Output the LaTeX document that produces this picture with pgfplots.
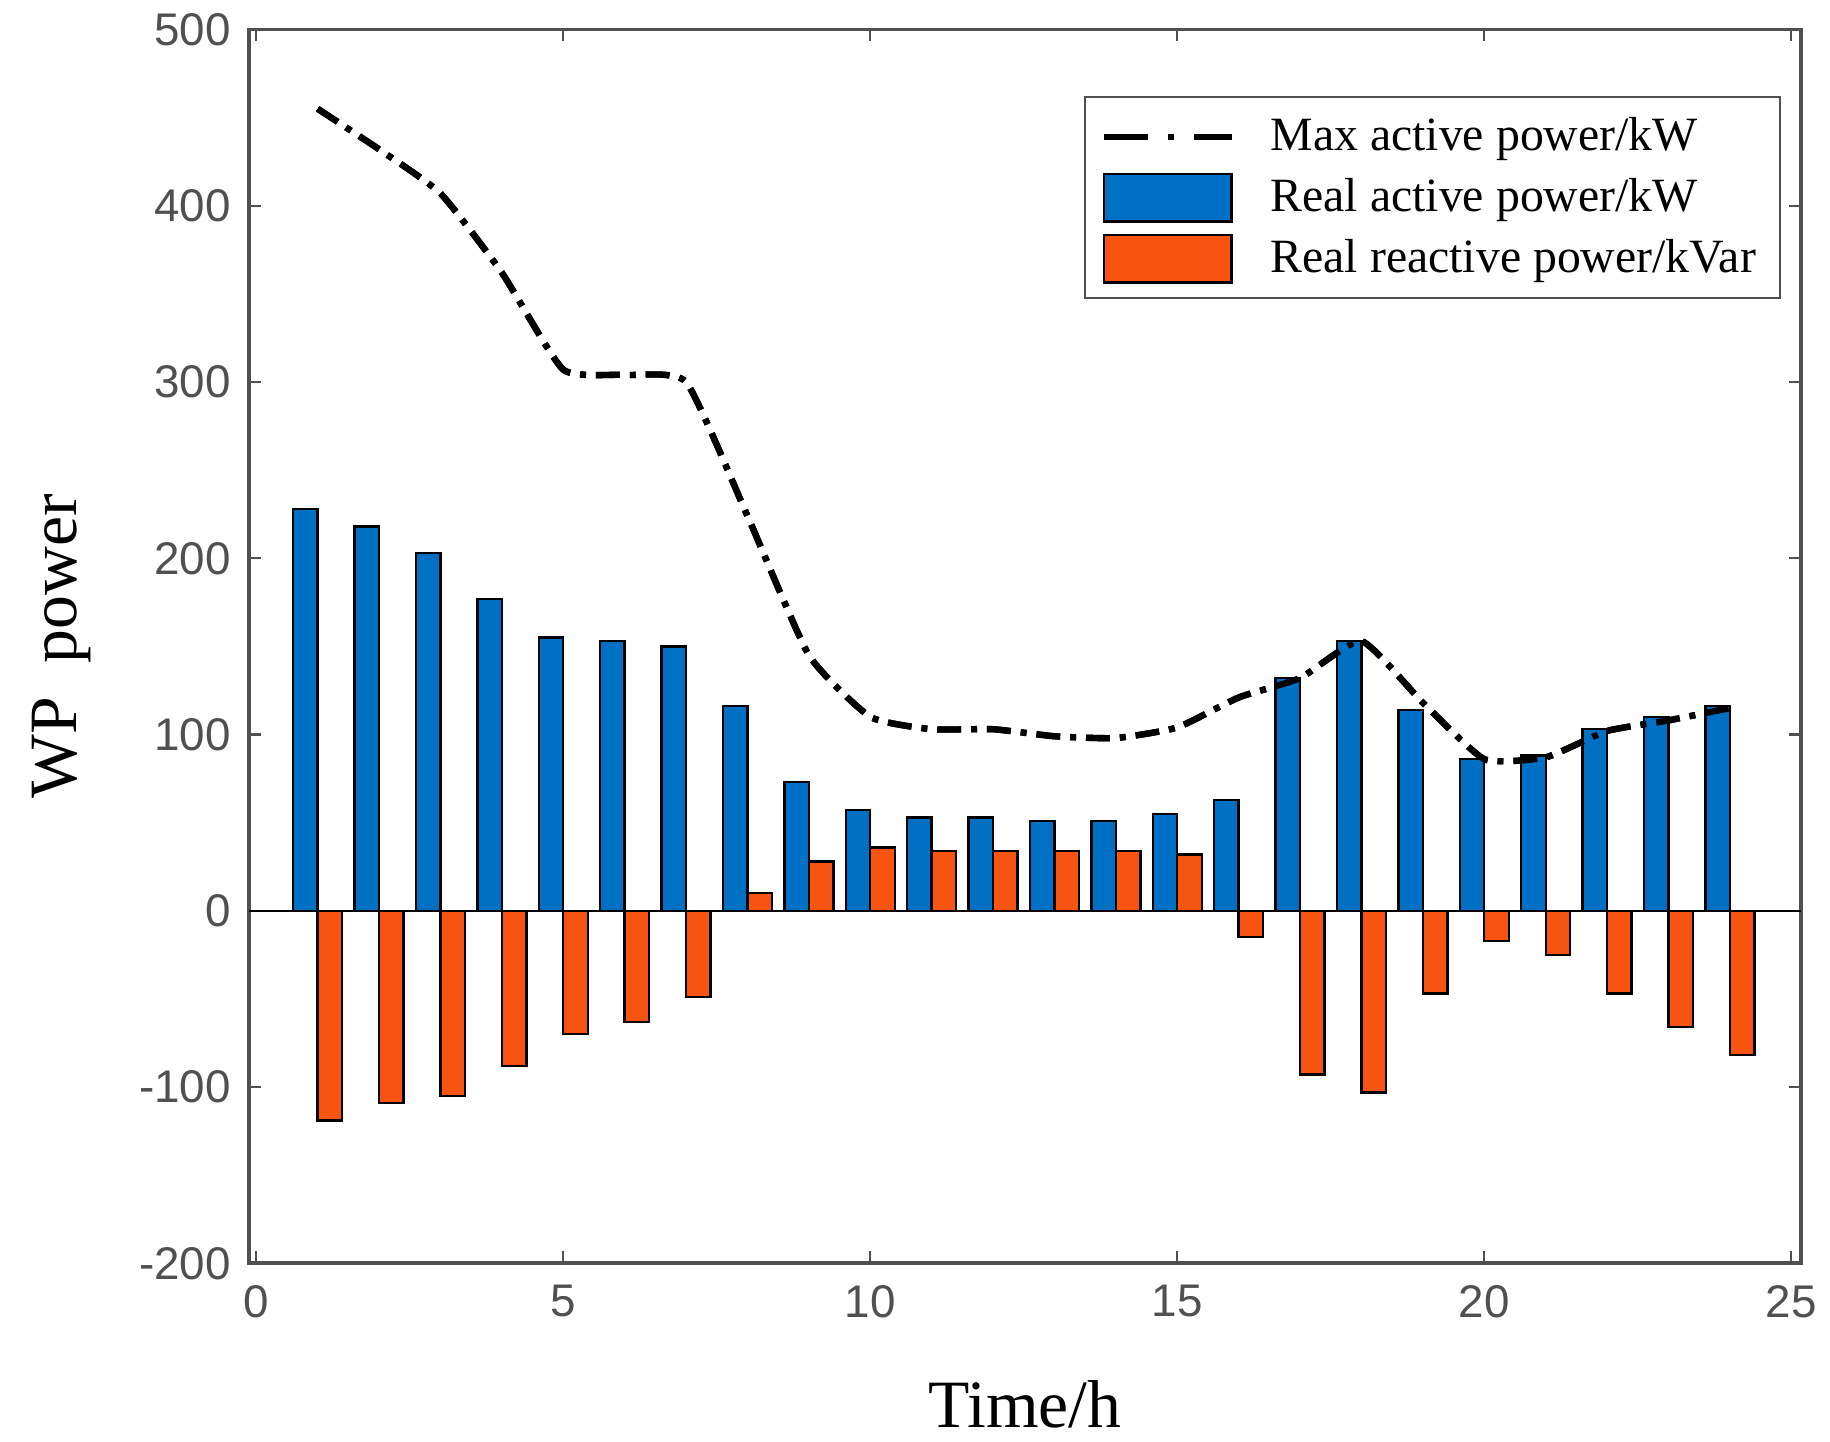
\documentclass[border=0pt]{standalone}
\usepackage{fontspec}
\setmainfont{Liberation Serif}
\newfontfamily\arialfont{Liberation Sans}
\usepackage{pgfplots}
\usepackage{pgfplotstable}
\pgfplotsset{compat=1.18}

\definecolor{barblue}{RGB}{0,112,196}
\definecolor{barorange}{RGB}{246,84,16}
\definecolor{axisgray}{RGB}{80,80,80}

\pgfplotsset{
  maxline/.style={black, line width=1.6pt, smooth, tension=0.3,
    dash pattern=on 6pt off 2.5pt on 1.5pt off 2.5pt},
  lineleg/.style={legend image code/.code={%
    \draw[##1, dash pattern=on 11pt off 5pt on 1.5pt off 5pt] (0pt,0pt) -- (32pt,0pt);}},
  barleg/.style={legend image code/.code={%
    \draw[##1] (0pt,-6pt) rectangle (32pt,6pt);}},
}

% t, real active (kW), real reactive (kVar), max active (kW)
\pgfplotstableread{
t  active reactive maxp
1  228  -119  455
2  218  -109  432
3  203  -105  407
4  177   -88  362
5  155   -70  307
6  153   -63  304
7  150   -49  300
8  116    10  224
9   73    28  145
10  57    36  110
11  53    34  103
12  53    34  103
13  51    34   99
14  51    34   98
15  55    32  104
16  63   -15  121
17 132   -93  132
18 153  -103  153
19 114   -47  118
20  86   -17   86
21  88   -25   87
22 103   -47  102
23 110   -66  108
24 116   -82  115
}\wpdata

\begin{document}
\begin{tikzpicture}
\begin{axis}[
  scale only axis,
  width=390pt, height=310pt,
  xmin=-0.12, xmax=25.16,
  ymin=-200, ymax=500,
  xtick={0,5,...,25},
  ytick={-200,-100,...,500},
  tick align=inside,
  major tick length=3pt,
  axis line style={axisgray, line width=0.9pt},
  tick style={axisgray, line width=0.6pt},
  /pgf/number format/assume math mode=true,
  tick label style={font=\arialfont\fontsize{11.5}{12}\selectfont, text=axisgray},
  xticklabel style={yshift=-2pt},
  yticklabel style={xshift=-1pt},
  xlabel={Time/h},
  ylabel={WP\ \ power},
  label style={font=\fontsize{17}{20}\selectfont},
  xlabel style={at={(axis description cs:0.5,-0.084)}, anchor=north},
  ylabel style={at={(axis description cs:-0.081,0.5)}, anchor=south, inner ysep=8pt},
  legend style={at={(axis description cs:0.538,0.946)}, anchor=north west,
    draw=axisgray, line width=0.6pt, font=\fontsize{12}{14}\selectfont,
    inner xsep=4pt, inner ysep=3pt, row sep=1.5pt,
    /tikz/every odd column/.append style={column sep=7pt}},
  legend cell align=left,
]
\addplot[maxline, lineleg] table[x=t, y=maxp] {\wpdata};
\addlegendentry{Max active power/kW}
\addplot[ybar, bar width=0.4, bar shift=-0.2, fill=barblue, draw=black,
  line width=0.6pt, barleg] table[x=t, y=active] {\wpdata};
\addlegendentry{Real active power/kW}
\addplot[ybar, bar width=0.4, bar shift=0.2, fill=barorange, draw=black,
  line width=0.6pt, barleg] table[x=t, y=reactive] {\wpdata};
\addlegendentry{Real reactive power/kVar}
\addplot[black, line width=0.5pt, forget plot] coordinates {(-0.12,0) (25.16,0)};
\addplot[maxline, forget plot] table[x=t, y=maxp] {\wpdata};
\end{axis}
\end{tikzpicture}
\end{document}
